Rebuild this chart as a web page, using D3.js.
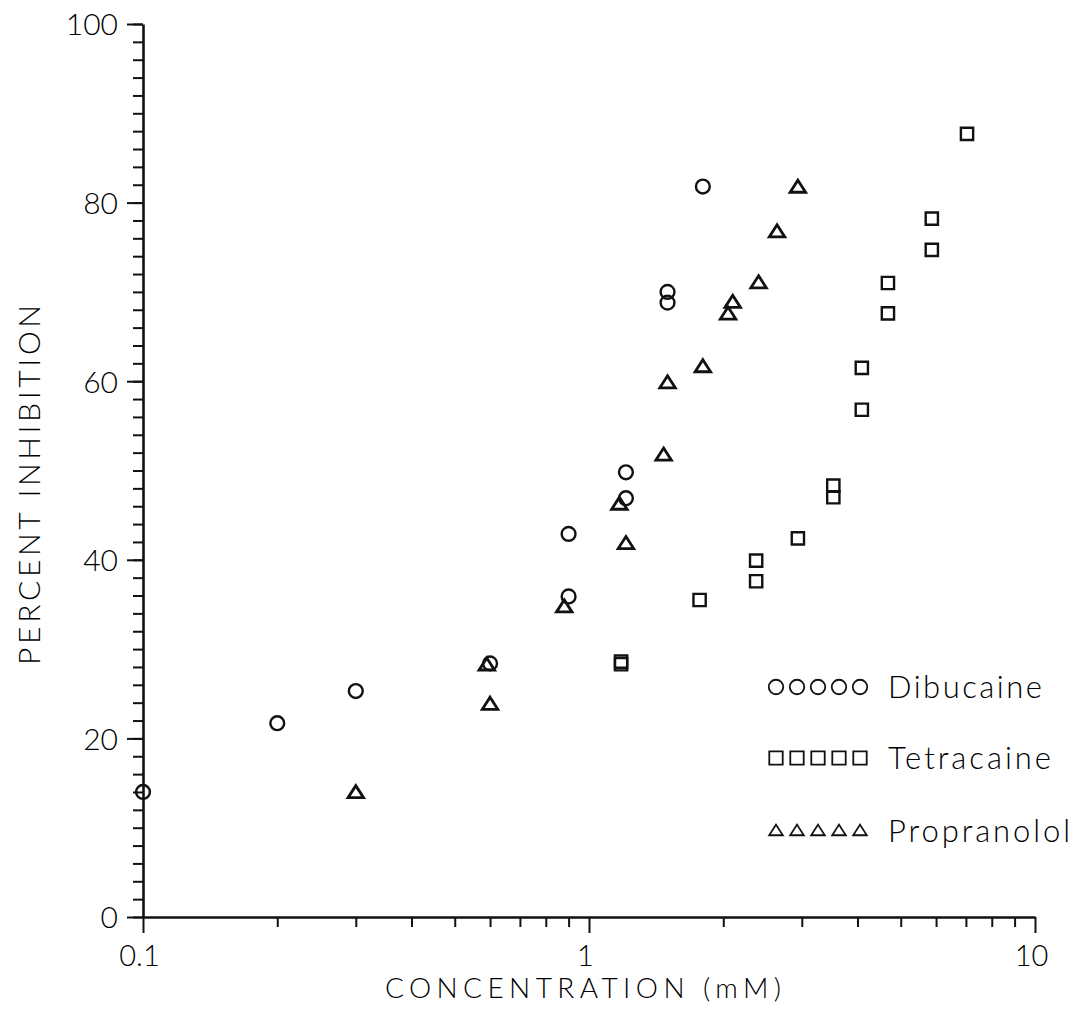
<!DOCTYPE html>
<html>
<head>
<meta charset="utf-8">
<script src="https://cdn.jsdelivr.net/npm/d3@7"></script>
<style>
  body { margin: 0; background: #fff; }
  svg text { font-family: Lato, "Liberation Sans", sans-serif; font-weight: 300; fill: #000; }
</style>
</head>
<body>
<svg id="chart" width="1080" height="1012"></svg>
<script>
// values
const dibucaineConc = [0.1, 0.2, 0.3, 0.6, 0.9, 0.9, 1.21, 1.21, 1.5, 1.5, 1.8];
const dibucaineInhib = [14.0, 21.7, 25.3, 28.4, 42.9, 35.9, 49.8, 46.9, 70.0, 68.8, 81.8];

const tetracaineConc = [1.18, 1.18, 1.77, 2.37, 2.37, 2.94, 3.53, 3.53, 4.09, 4.09, 4.68, 4.68, 5.87, 5.87, 7.04];
const tetracaineInhib = [28.6, 28.3, 35.5, 37.6, 39.9, 42.4, 47.0, 48.3, 56.8, 61.5, 67.6, 71.0, 74.7, 78.2, 87.7];

const propranololConc = [0.3, 0.6, 0.59, 0.88, 1.17, 1.21, 1.47, 1.5, 1.8, 2.05, 2.1, 2.4, 2.64, 2.94];
const propranololInhib = [13.9, 23.8, 28.2, 34.7, 46.2, 41.8, 51.7, 59.8, 61.6, 67.5, 68.8, 71.0, 76.7, 81.7];

const seriesNames = ["Dibucaine", "Tetracaine", "Propranolol"];
const xMajorTicks = [0.1, 1, 10];
const xMinorTicks = [0.2, 0.3, 0.4, 0.5, 0.6, 0.7, 0.8, 0.9, 2, 3, 4, 5, 6, 7, 8, 9];
const yMajorTicks = [0, 20, 40, 60, 80, 100];

const svg = d3.select("#chart");

const x = d3.scaleLog().domain([0.1, 10]).range([143, 1035]);
const y = d3.scaleLinear().domain([0, 100]).range([917, 24]);

// flattened open triangle like the plotter's
const flatTriangle = {
  draw(ctx, size) {
    const w = Math.sqrt(size);
    const h = w * 0.78;
    ctx.moveTo(0, -h * 0.6);
    ctx.lineTo(w / 2, h * 0.4);
    ctx.lineTo(-w / 2, h * 0.4);
    ctx.closePath();
  }
};

function markerPath(i, big) {
  if (i == 0) return d3.symbol(d3.symbolCircle, big ? 150 : 165)();
  if (i == 1) return d3.symbol(d3.symbolSquare, big ? 150 : 180)();
  return d3.symbol(flatTriangle, big ? 240 : 185)();
}

// axes
function yAxis(g, ticks, size) {
  g.attr("transform", "translate(143,0)")
    .call(d3.axisLeft(y).tickValues(ticks).tickSize(size).tickSizeOuter(0).tickFormat(""))
    .call(g => g.selectAll(".tick line").attr("stroke", "#111").attr("stroke-width", 2));
}
function xAxis(g, ticks, size) {
  g.attr("transform", "translate(0,917)")
    .call(d3.axisBottom(x).tickValues(ticks).tickSize(size).tickSizeOuter(0).tickFormat(""))
    .call(g => g.selectAll(".tick line").attr("stroke", "#111").attr("stroke-width", 2));
}

svg.append("g").call(yAxis, d3.range(0, 101, 2), 10).select(".domain").remove();
svg.append("g").call(xAxis, xMinorTicks, 10).select(".domain").remove();

const yMaj = svg.append("g").call(yAxis, yMajorTicks, 16);
yMaj.select(".domain").attr("stroke", "#111").attr("stroke-width", 2.6);
yMaj.selectAll(".tick").append("text")
  .attr("x", -25).attr("dy", "0.36em")
  .attr("text-anchor", "end")
  .attr("font-size", 30)
  .text(d => d);

const xMaj = svg.append("g").call(xAxis, xMajorTicks, 16);
xMaj.select(".domain").attr("stroke", "#111").attr("stroke-width", 2.6);
xMaj.selectAll(".tick").append("text")
  .attr("x", -4)
  .attr("y", 49)
  .attr("text-anchor", "middle")
  .attr("font-size", 29)
  .text(d => d3.format("~g")(d));

// axis titles
svg.append("text")
  .attr("transform", "translate(40,485) rotate(-90)")
  .attr("text-anchor", "middle")
  .attr("font-size", 30)
  .attr("textLength", 360).attr("lengthAdjust", "spacing")
  .text("PERCENT INHIBITION");

svg.append("text")
  .attr("x", 583).attr("y", 998)
  .attr("text-anchor", "middle")
  .attr("font-size", 28)
  .attr("textLength", 396).attr("lengthAdjust", "spacing")
  .text("CONCENTRATION  (mM)");

// points
const allSeries = [
  d3.zip(dibucaineConc, dibucaineInhib),
  d3.zip(tetracaineConc, tetracaineInhib),
  d3.zip(propranololConc, propranololInhib)
];

allSeries.forEach((pts, i) => {
  svg.append("g")
    .selectAll("path")
    .data(pts)
    .join("path")
      .attr("transform", d => `translate(${x(d[0])},${y(d[1])})`)
      .attr("d", markerPath(i, true))
      .attr("fill", "none")
      .attr("stroke", "#111")
      .attr("stroke-width", i == 2 ? 2.8 : 2.4);
});

// legend
const legendRows = [687, 758, 831];
const legendWidths = [154, 163, 182];
const legend = svg.append("g");
seriesNames.forEach((name, i) => {
  const row = legend.append("g").attr("transform", `translate(0,${legendRows[i]})`);
  row.selectAll("path")
    .data(d3.range(5))
    .join("path")
      .attr("transform", k => `translate(${776 + k * 21},0)`)
      .attr("d", markerPath(i, false))
      .attr("fill", "none")
      .attr("stroke", "#111")
      .attr("stroke-width", 1.8);
  row.append("text")
    .attr("x", 888).attr("y", 11)
    .attr("font-size", 31)
    .attr("textLength", legendWidths[i]).attr("lengthAdjust", "spacing")
    .text(name);
});
</script>
</body>
</html>
